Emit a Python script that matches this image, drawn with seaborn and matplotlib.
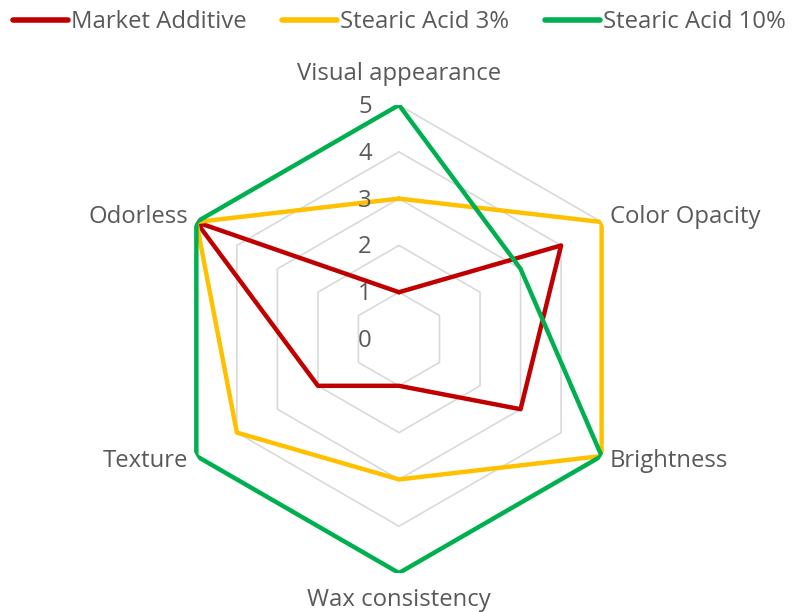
import numpy as np
import pandas as pd
import matplotlib.pyplot as plt
import matplotlib.transforms as mtransforms
import seaborn as sns

# Radar chart data
attributes = ['Visual appearance', 'Color Opacity', 'Brightness',
              'Wax consistency', 'Texture', 'Odorless']
series_names = ['Market Additive', 'Stearic Acid 3%', 'Stearic Acid 10%']
market_additive = [1, 4, 3, 1, 2, 5]
stearic_3 = [3, 5, 5, 3, 4, 5]
stearic_10 = [5, 3, 5, 5, 5, 5]
tick_values = [0, 1, 2, 3, 4, 5]

colors = ['#C00000', '#FFC000', '#00B050']
text_color = '#595959'
grid_color = '#D9D9D9'

sns.set_theme(style='white')
plt.rcParams['font.family'] = ['Open Sans', 'DejaVu Sans']

n = len(attributes)
angles = np.linspace(0, 2 * np.pi, n, endpoint=False)
closed_angles = np.append(angles, angles[0])

# long table for seaborn
rows = []
for name, vals in zip(series_names, [market_additive, stearic_3, stearic_10]):
    closed_vals = list(vals) + [vals[0]]
    for i, (a, v) in enumerate(zip(closed_angles, closed_vals)):
        rows.append({'series': name, 'angle': a, 'value': v, 'order': i})
df = pd.DataFrame(rows)

fig = plt.figure(figsize=(7.99, 6.12), dpi=100)
ax = fig.add_axes([0.2065, 0.0637, 0.5857, 0.7647], projection='polar')
ax.set_theta_offset(np.pi / 2)
ax.set_theta_direction(-1)
ax.set_ylim(0, 5)
ax.grid(False)
ax.spines['polar'].set_visible(False)
ax.set_xticks([])
ax.set_yticks([])

# hexagonal gridlines
for k in tick_values[1:]:
    ax.plot(closed_angles, [k] * len(closed_angles), color=grid_color,
            lw=1.2, zorder=1)

sns.lineplot(data=df, x='angle', y='value', hue='series', hue_order=series_names,
             palette=colors, sort=False, estimator=None, units='series',
             lw=3.2, ax=ax, zorder=3, legend=False)

fs = 17.2

# value tick labels left of the top axis
offset = mtransforms.ScaledTranslation(-34 / 100, -2 / 100, fig.dpi_scale_trans)
for k in tick_values:
    ax.text(0, k, str(k), transform=ax.transData + offset, ha='center',
            va='center', fontsize=fs, color=text_color, zorder=5)

# category labels
label_specs = [
    (5.0, 'center', 'center', 0, 31),
    (5.0, 'left', 'center', 8, 5),
    (5.0, 'left', 'center', 8, -5),
    (5.0, 'center', 'top', 0, -15),
    (5.0, 'right', 'center', -8, -5),
    (5.0, 'right', 'center', -8, 5),
]
for a, name, (r, ha, va, dx, dy) in zip(angles, attributes, label_specs):
    off = mtransforms.ScaledTranslation(dx / 100, dy / 100, fig.dpi_scale_trans)
    ax.text(a, r, name, transform=ax.transData + off, ha=ha, va=va,
            fontsize=fs, color=text_color, clip_on=False)

handles = [plt.Line2D([0], [0], color=c, lw=4, solid_capstyle='round')
           for c in colors]
fig.legend(handles, series_names, loc='upper center', ncol=3, frameon=False,
           bbox_to_anchor=(0.5, 1.018), handlelength=2.3, handletextpad=0.13,
           columnspacing=1.5, fontsize=fs, labelcolor=text_color)

fig.savefig('out.png', dpi=100)
